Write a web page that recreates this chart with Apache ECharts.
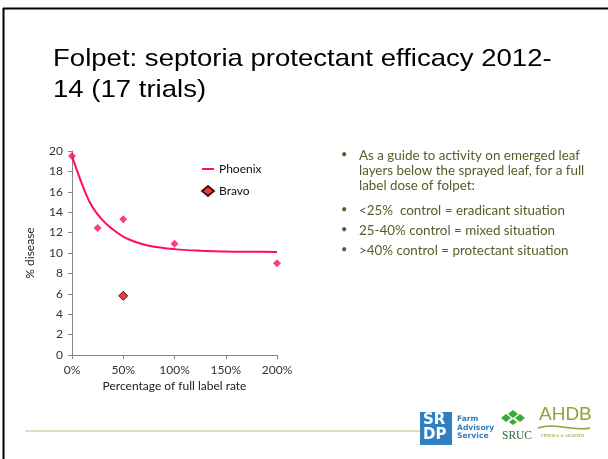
<!DOCTYPE html>
<html>
<head>
<meta charset="utf-8">
<script src="https://cdn.jsdelivr.net/npm/echarts@6/dist/echarts.min.js"></script>
<style>
  html, body { margin: 0; padding: 0; background: #fff; }
  #chart { width: 608px; height: 459px; }
</style>
</head>
<body>
<div id="chart"></div>
<script>
// Phoenix trial means (% of full label rate vs % disease)
const phoenixRate = [0, 25, 50, 100, 200];
const phoenixDisease = [19.5, 12.45, 13.3, 10.9, 9.0];

// Bravo comparison
const bravoRate = [50];
const bravoDisease = [5.8];

// fitted trend curve
const curveRate = [0, 12.5, 20, 30, 40, 50, 60, 75, 100, 125, 150, 175, 200];
const curveDisease = [19.5, 16.05, 14.5, 13.2, 12.3, 11.6, 11.15, 10.72, 10.38, 10.22, 10.15, 10.12, 10.1];

const bullets = [
    'As a guide to activity on emerged leaf\nlayers below the sprayed leaf, for a full\nlabel dose of folpet:',
    '<25%  control = eradicant situation',
    '25-40% control = mixed situation',
    '>40% control = protectant situation'
];

const zip = (xs, ys) => xs.map((x, i) => [x, ys[i]]);

const chart = echarts.init(document.getElementById('chart'));

const textFont = 'Lato, "Open Sans", sans-serif';
const bulletColor = '#4f6228';
const bulletTops = [148, 203, 223, 243];

const graphics = [
    // slide frame
    { type: 'line', shape: { x1: 3.5, y1: 8, x2: 3.5, y2: 459 }, style: { stroke: '#000', lineWidth: 2 } },
    { type: 'line', shape: { x1: 3, y1: 8.5, x2: 608, y2: 8.5 }, style: { stroke: '#000', lineWidth: 2 } },
    // title (slide text is a bit stretched sideways)
    {
        type: 'text', x: 53, y: 43, scaleX: 1.12,
        style: {
            text: 'Folpet: septoria protectant efficacy 2012-\n14 (17 trials)',
            font: '24.6px "Liberation Sans", Arial, sans-serif',
            fill: '#000', lineHeight: 31.5, verticalAlign: 'top'
        }
    },
    // footer rule
    { type: 'line', shape: { x1: 25, y1: 431, x2: 420, y2: 431 }, style: { stroke: '#dcdfc6', lineWidth: 2 } }
];

bullets.forEach((t, i) => {
    graphics.push({ type: 'text', left: 341, top: bulletTops[i] + 1,
        style: { text: '\u2022', font: '11px ' + textFont, fill: bulletColor } });
    graphics.push({ type: 'text', left: 359, top: bulletTops[i],
        style: { text: t, font: '13.4px ' + textFont, fill: bulletColor, lineHeight: 15 } });
});

// logos
const sruc = '#3aa935';
graphics.push(
    { type: 'rect', shape: { x: 420, y: 412, width: 32, height: 33 }, style: { fill: '#2f7fc1' } },
    { type: 'text', left: 423, top: 413, style: { text: 'SR\nDP', font: 'bold 15px "DejaVu Sans", sans-serif', fill: '#fff', lineHeight: 15 } },
    { type: 'text', left: 457, top: 415, style: { text: 'Farm\nAdvisory\nService', font: 'bold 7.6px "DejaVu Sans", sans-serif', fill: '#2f7fc1', lineHeight: 8.6 } },
    { type: 'polygon', shape: { points: [[513, 410], [518, 414], [513, 418], [508, 414]] }, style: { fill: sruc } },
    { type: 'polygon', shape: { points: [[506, 414], [511, 418], [506, 422], [501, 418]] }, style: { fill: sruc } },
    { type: 'polygon', shape: { points: [[520, 414], [525, 418], [520, 422], [515, 418]] }, style: { fill: sruc } },
    { type: 'polygon', shape: { points: [[513, 419], [517, 422], [513, 425], [509, 422]] }, style: { fill: sruc } },
    { type: 'text', left: 502, top: 430, style: { text: 'SRUC', font: '11.5px "Liberation Serif", serif', fill: '#2a6a3a' } },
    { type: 'text', left: 539, top: 405, style: { text: 'AHDB', font: '19px "Liberation Sans", sans-serif', fill: '#8fa33a' } },
    { type: 'bezierCurve', shape: { x1: 538, y1: 428, x2: 590, y2: 428, cpx1: 555, cpy1: 422, cpx2: 575, cpy2: 432 }, style: { stroke: '#8fa33a', lineWidth: 1.5, fill: null } },
    { type: 'text', left: 541, top: 434, style: { text: 'CEREALS & OILSEEDS', font: '4px "DejaVu Sans", sans-serif', fill: '#8fa33a' } }
);

const axisText = { color: '#333', fontFamily: textFont, fontSize: 12 };

chart.setOption({
    animation: false,
    backgroundColor: '#fff',
    grid: { left: 72, top: 151, width: 205, height: 204, containLabel: false },
    xAxis: {
        type: 'value', min: 0, max: 200, interval: 50,
        name: 'Percentage of full label rate', nameLocation: 'middle', nameGap: 25,
        nameTextStyle: { color: '#222', fontFamily: textFont, fontSize: 12 },
        axisLine: { show: true, lineStyle: { color: '#868686' } },
        axisTick: { show: true, length: 4, lineStyle: { color: '#868686' } },
        splitLine: { show: false },
        axisLabel: Object.assign({ formatter: '{value}%', margin: 9 }, axisText)
    },
    yAxis: {
        type: 'value', min: 0, max: 20, interval: 2,
        name: '% disease', nameLocation: 'middle', nameGap: 36,
        nameTextStyle: { color: '#222', fontFamily: textFont, fontSize: 12 },
        axisLine: { show: true, lineStyle: { color: '#868686' } },
        axisTick: { show: true, length: 4, lineStyle: { color: '#868686' } },
        splitLine: { show: false },
        axisLabel: Object.assign({ margin: 9 }, axisText)
    },
    legend: {
        orient: 'vertical', left: 196, top: 158, itemGap: 10,
        itemWidth: 12, itemHeight: 10,
        textStyle: { color: '#111', fontFamily: textFont, fontSize: 12 },
        data: [
            { name: 'Phoenix', itemStyle: { opacity: 0 } },
            { name: 'Bravo', icon: 'diamond' }
        ]
    },
    graphic: graphics,
    series: [
        {
            name: 'Phoenix', type: 'line', smooth: 0.4, symbol: 'none',
            data: zip(curveRate, curveDisease),
            lineStyle: { color: '#ff0a6c', width: 2 },
            itemStyle: { color: '#ff0a6c' }, z: 2
        },
        {
            name: 'Phoenix points', type: 'scatter', symbol: 'diamond', symbolSize: 8,
            data: zip(phoenixRate, phoenixDisease),
            itemStyle: { color: '#ff0a6c' }, z: 3
        },
        {
            name: 'Bravo', type: 'scatter', symbol: 'diamond', symbolSize: 9,
            data: zip(bravoRate, bravoDisease),
            itemStyle: { color: '#ff0000', borderColor: '#000', borderWidth: 1 }, z: 4
        }
    ]
});
</script>
</body>
</html>
